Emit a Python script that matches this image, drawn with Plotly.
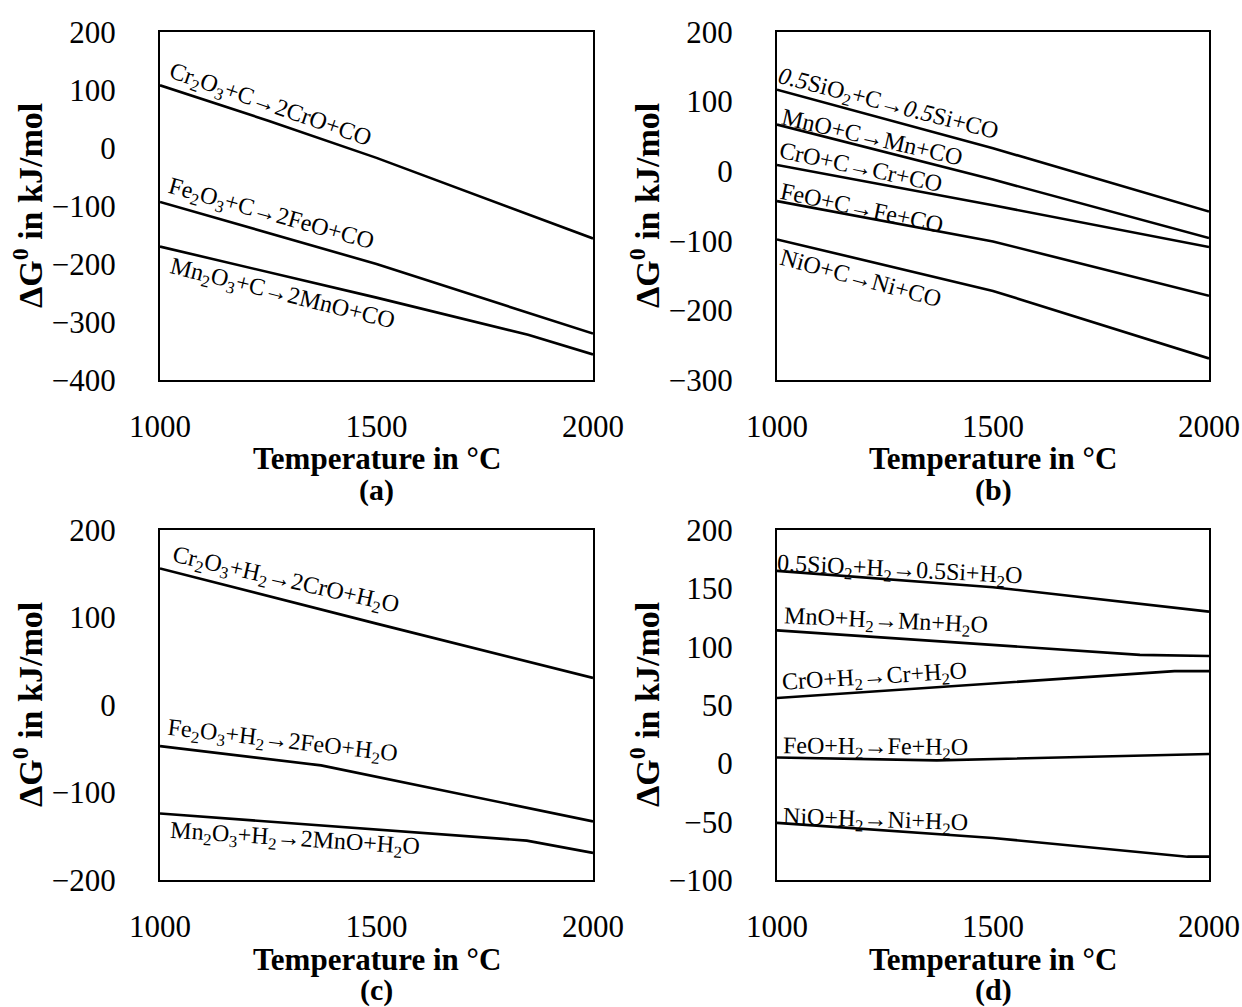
import plotly.graph_objects as go

# ---------------- data ----------------
# Panel (a): carbon reduction of sesquioxides
a_cr_T = [1000, 1250, 1500, 1750, 2000]
a_cr_G = [108, 47, -17, -86, -156]
a_fe_T = [1000, 1500, 2000]
a_fe_G = [-93, -200, -320]
a_mn_T = [1000, 1500, 1850, 2000]
a_mn_G = [-170, -258, -322, -356]

# Panel (b): carbon reduction of monoxides
b_si_T = [1000, 1500, 2000]
b_si_G = [117, 33, -58]
b_mn_T = [1000, 1500, 2000]
b_mn_G = [67, -12, -96]
b_cr_T = [1000, 1500, 2000]
b_cr_G = [9, -49, -109]
b_fe_T = [1000, 1400, 1500, 2000]
b_fe_G = [-43, -90, -101, -179]
b_ni_T = [1000, 1500, 2000]
b_ni_G = [-98, -172, -269]

# Panel (c): hydrogen reduction of sesquioxides
c_cr_T = [1000, 1500, 2000]
c_cr_G = [156, 93, 31]
c_fe_T = [1000, 1372, 2000]
c_fe_G = [-47, -69, -133]
c_mn_T = [1000, 1847, 2000]
c_mn_G = [-124, -155, -169]

# Panel (d): hydrogen reduction of monoxides
d_si_T = [1000, 1500, 2000]
d_si_G = [165, 151, 130]
d_mn_T = [1000, 1840, 2000]
d_mn_G = [114, 93, 92]
d_cr_T = [1000, 1920, 2000]
d_cr_G = [56, 79, 79]
d_fe_T = [1000, 1370, 2000]
d_fe_G = [5, 2.5, 8]
d_ni_T = [1000, 1500, 1950, 2000]
d_ni_G = [-51, -64, -80, -80]

a_labels = ["Cr<sub>2</sub>O<sub>3</sub>+C→2CrO+CO",
            "Fe<sub>2</sub>O<sub>3</sub>+C→2FeO+CO",
            "Mn<sub>2</sub>O<sub>3</sub>+C→2MnO+CO"]
b_labels = ["<i>0.5</i>SiO<sub>2</sub>+C→<i>0.5</i>Si+CO",
            "MnO+C→Mn+CO",
            "CrO+C→Cr+CO",
            "FeO+C→Fe+CO",
            "NiO+C→Ni+CO"]
c_labels = ["Cr<sub>2</sub>O<sub>3</sub>+H<sub>2</sub>→2CrO+H<sub>2</sub>O",
            "Fe<sub>2</sub>O<sub>3</sub>+H<sub>2</sub>→2FeO+H<sub>2</sub>O",
            "Mn<sub>2</sub>O<sub>3</sub>+H<sub>2</sub>→2MnO+H<sub>2</sub>O"]
d_labels = ["0.5SiO<sub>2</sub>+H<sub>2</sub>→0.5Si+H<sub>2</sub>O",
            "MnO+H<sub>2</sub>→Mn+H<sub>2</sub>O",
            "CrO+H<sub>2</sub>→Cr+H<sub>2</sub>O",
            "FeO+H<sub>2</sub>→Fe+H<sub>2</sub>O",
            "NiO+H<sub>2</sub>→Ni+H<sub>2</sub>O"]

x_ticks = [1000, 1500, 2000]
a_yticks = [-400, -300, -200, -100, 0, 100, 200]
b_yticks = [-300, -200, -100, 0, 100, 200]
c_yticks = [-200, -100, 0, 100, 200]
d_yticks = [-100, -50, 0, 50, 100, 150, 200]
panel_tags = ["(a)", "(b)", "(c)", "(d)"]
x_title = "Temperature in °C"
y_title = "ΔG<sup>0</sup> in kJ/mol"

# ---------------- layout / style ----------------
W, H = 1242, 1007
FONT = "Liberation Serif"
TICK_SIZE = 31
XTITLE_SIZE = 31
TAG_SIZE = 30
YTITLE_SIZE = 34
LABEL_SIZE = 24

# pixel boxes of the four plot areas (left, right, top, bottom)
boxes = {
    "a": (160, 593, 32, 380),
    "b": (777, 1209, 32, 380),
    "c": (160, 593, 530, 880),
    "d": (777, 1209, 530, 880),
}

# label placement (data coords of centre) and rotation
a_lab_pos = [(1255, 72, 19), (1256, -116, 15.5), (1284, -253, 14)]
b_lab_pos = [(1257, 95, 14.5), (1220, 49, 13), (1194, 6, 12), (1197, -53, 12), (1194, -153, 15)]
c_lab_pos = [(1289, 142, 12.8), (1284, -42, 6.6), (1312, -154, 3.8)]
d_lab_pos = [(1285, 165, 3), (1252, 121, 2.7), (1225, 73, -3.6), (1227, 13, 0.5), (1227, -49, 2)]

panels = [
    ("a", [(a_cr_T, a_cr_G), (a_fe_T, a_fe_G), (a_mn_T, a_mn_G)], a_labels, a_lab_pos, a_yticks),
    ("b", [(b_si_T, b_si_G), (b_mn_T, b_mn_G), (b_cr_T, b_cr_G), (b_fe_T, b_fe_G), (b_ni_T, b_ni_G)],
     b_labels, b_lab_pos, b_yticks),
    ("c", [(c_cr_T, c_cr_G), (c_fe_T, c_fe_G), (c_mn_T, c_mn_G)], c_labels, c_lab_pos, c_yticks),
    ("d", [(d_si_T, d_si_G), (d_mn_T, d_mn_G), (d_cr_T, d_cr_G), (d_fe_T, d_fe_G), (d_ni_T, d_ni_G)],
     d_labels, d_lab_pos, d_yticks),
]

fig = go.Figure()
annotations = []
layout_axes = {}

for i, (key, series, labels, lab_pos, yticks) in enumerate(panels):
    n = i + 1
    xa = "x" if n == 1 else f"x{n}"
    ya = "y" if n == 1 else f"y{n}"
    l, r, t, b = boxes[key]
    for (T, G) in series:
        fig.add_trace(go.Scatter(x=T, y=G, mode="lines", xaxis=xa, yaxis=ya,
                                 line=dict(color="black", width=2.6), showlegend=False,
                                 hoverinfo="skip"))
    axis_common = dict(showline=True, mirror=True, linecolor="black", linewidth=2,
                       showgrid=False, zeroline=False, ticks="", automargin=False,
                       tickfont=dict(family=FONT, size=TICK_SIZE, color="black"))
    layout_axes["xaxis" if n == 1 else f"xaxis{n}"] = dict(
        axis_common, domain=[l / W, r / W], range=[1000, 2000], tickvals=x_ticks,
        anchor=ya, ticklabelstandoff=18)
    layout_axes["yaxis" if n == 1 else f"yaxis{n}"] = dict(
        axis_common, domain=[1 - b / H, 1 - t / H], range=[min(yticks), max(yticks)],
        tickvals=yticks, anchor=xa, ticklabelstandoff=36)
    for text, (lx, ly, ang) in zip(labels, lab_pos):
        annotations.append(dict(x=lx, y=ly, xref=xa, yref=ya, text=text, showarrow=False,
                                textangle=ang, xanchor="center", yanchor="middle",
                                font=dict(family=FONT, size=LABEL_SIZE, color="black")))
    cx = (l + r) / 2
    annotations.append(dict(x=cx / W, y=1 - (b + 79) / H, xref="paper", yref="paper",
                            text=f"<b>{x_title}</b>", showarrow=False,
                            xanchor="center", yanchor="middle",
                            font=dict(family=FONT, size=XTITLE_SIZE, color="black")))
    annotations.append(dict(x=cx / W, y=1 - (b + 110) / H, xref="paper", yref="paper",
                            text=f"<b>{panel_tags[i]}</b>", showarrow=False,
                            xanchor="center", yanchor="middle",
                            font=dict(family=FONT, size=TAG_SIZE, color="black")))
    annotations.append(dict(x=(l - 132) / W, y=1 - ((t + b) / 2) / H, xref="paper", yref="paper",
                            text=f"<b>{y_title}</b>", showarrow=False, textangle=-90,
                            xanchor="center", yanchor="middle",
                            font=dict(family=FONT, size=YTITLE_SIZE, color="black")))

fig.update_layout(width=W, height=H, autosize=False,
                  margin=dict(l=0, r=0, t=0, b=0),
                  paper_bgcolor="white", plot_bgcolor="white",
                  annotations=annotations, **layout_axes)

fig.write_html("out.html")
